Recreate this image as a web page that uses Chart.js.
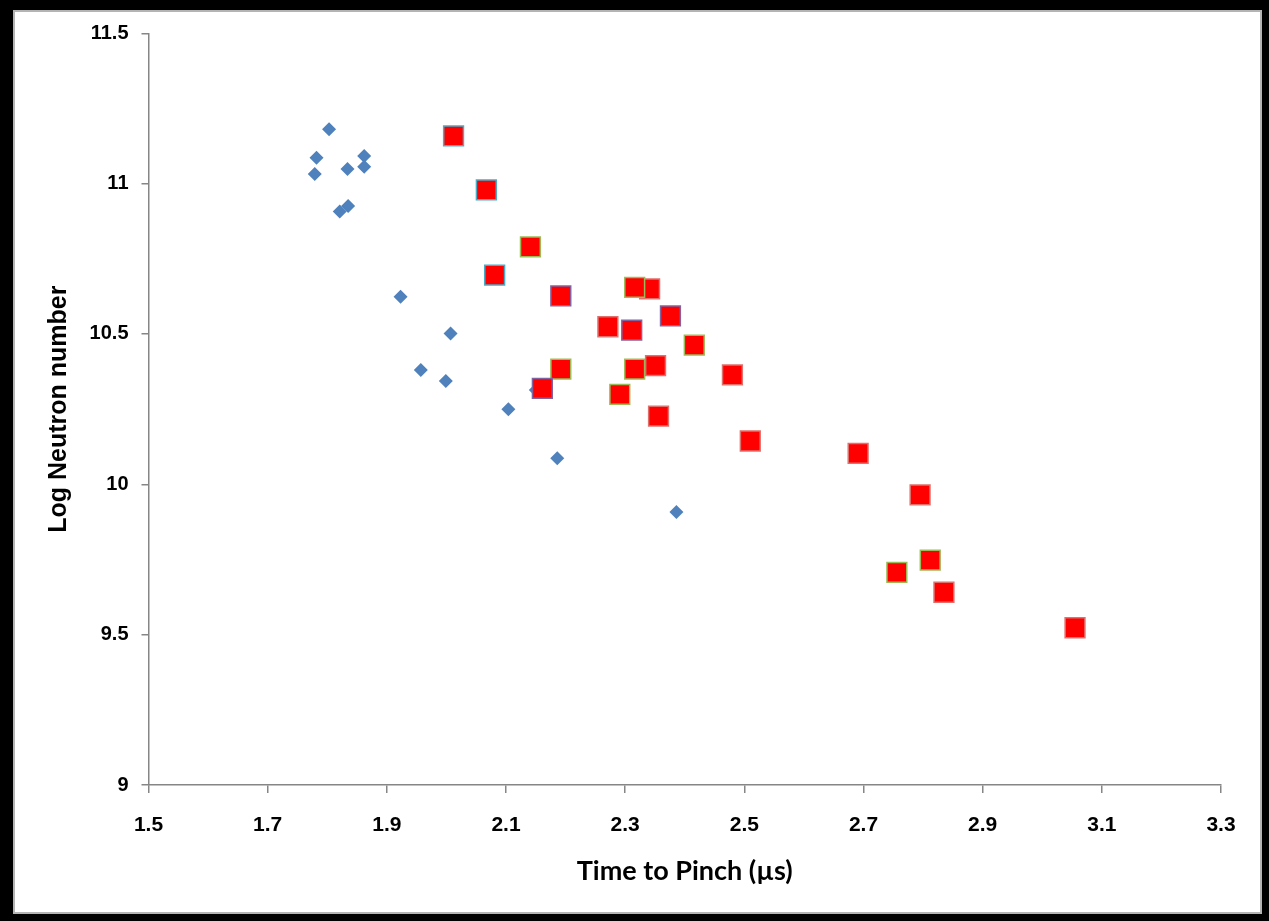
<!DOCTYPE html>
<html>
<head>
<meta charset="utf-8">
<script src="https://cdn.jsdelivr.net/npm/chart.js@4"></script>
<style>
  html, body { margin: 0; padding: 0; background: #000; width: 1269px; height: 921px; overflow: hidden; }
  #frame { position: absolute; left: 13px; top: 10px; width: 1245px; height: 900px; background: #fff; border: 2px solid #b4b4b4; }
  #wrap { position: absolute; left: 0; top: 0; width: 1269px; height: 921px; }
</style>
</head>
<body>
<div id="frame"></div>
<div id="wrap"><canvas id="c" width="1269" height="921"></canvas></div>
<script>
// Blue diamonds series
const blueX = [1.803, 1.782, 1.779, 1.834, 1.862, 1.862, 1.835, 1.821, 1.923, 2.007, 1.957, 1.999, 2.104, 2.150, 2.186, 2.386];
const blueY = [11.181, 11.086, 11.032, 11.049, 11.092, 11.056, 10.926, 10.907, 10.624, 10.502, 10.380, 10.344, 10.250, 10.314, 10.087, 9.908];
// Red squares series
const redX = [2.012, 2.067, 2.081, 2.141, 2.192, 2.341, 2.316, 2.376, 2.271, 2.311, 2.416, 2.192, 2.316, 2.351, 2.161, 2.291, 2.356, 2.480, 2.510, 2.691, 2.795, 2.812, 2.756, 2.835, 3.055];
const redY = [11.159, 10.979, 10.696, 10.790, 10.627, 10.650, 10.655, 10.560, 10.524, 10.513, 10.463, 10.383, 10.383, 10.395, 10.319, 10.299, 10.227, 10.364, 10.144, 10.103, 9.965, 9.748, 9.707, 9.641, 9.523];
// Per-point outline colours of the red squares (style only)
const redBorders = ['#4bacc6', '#4bacc6', '#4bacc6', '#9bbb59', '#8064a2', '#e0706c', '#9bbb59', '#8064a2', '#e0706c', '#8064a2', '#9bbb59', '#9bbb59', '#9bbb59', '#e0706c', '#8064a2', '#9bbb59', '#e0706c', '#e0706c', '#e0706c', '#e0706c', '#e0706c', '#9bbb59', '#9bbb59', '#e0706c', '#e0706c'];
// Axis ticks
const xTicks = [1.5, 1.7, 1.9, 2.1, 2.3, 2.5, 2.7, 2.9, 3.1, 3.3];
const xTickLabels = ['1.5', '1.7', '1.9', '2.1', '2.3', '2.5', '2.7', '2.9', '3.1', '3.3'];
const yTicks = [9, 9.5, 10, 10.5, 11, 11.5];
const yTickLabels = ['9', '9.5', '10', '10.5', '11', '11.5'];
const xTitle = 'Time to Pinch (\u00b5s)';
const yTitle = 'Log Neutron number';

const blueData = blueX.map((x, i) => ({ x: x, y: blueY[i] }));
const redData = redX.map((x, i) => ({ x: x, y: redY[i] }));

const axisColor = '#868686';
const tickFont = { family: '"Liberation Sans", Arial, sans-serif', size: 21, weight: 'bold' };

new Chart(document.getElementById('c'), {
  type: 'scatter',
  data: {
    datasets: [
      {
        label: 'Red',
        data: redData,
        order: 1,
        pointStyle: 'rect',
        pointRadius: 14,
        pointHoverRadius: 14,
        backgroundColor: '#ff0000',
        borderColor: redBorders,
        borderWidth: 1.5
      },
      {
        label: 'Blue',
        data: blueData,
        order: 2,
        pointStyle: 'rectRot',
        pointRadius: 7,
        pointHoverRadius: 7,
        backgroundColor: '#4f81bd',
        borderColor: '#4f81bd',
        borderWidth: 0
      }
    ]
  },
  options: {
    responsive: false,
    animation: false,
    devicePixelRatio: 1,
    layout: { padding: { left: 0, top: 33.3, right: 48, bottom: 30 } },
    plugins: { legend: { display: false }, tooltip: { enabled: false } },
    scales: {
      x: {
        type: 'linear',
        min: 1.5,
        max: 3.3,
        afterBuildTicks: (s) => { s.ticks = xTicks.map(v => ({ value: v })); },
        afterFit: (s) => { s.height = 106; },
        border: { display: true, color: axisColor, width: 1.5 },
        grid: { display: true, drawOnChartArea: false, drawTicks: true, tickLength: 8, color: axisColor, lineWidth: 1.5 },
        ticks: {
          color: '#000',
          font: tickFont,
          padding: 20,
          maxRotation: 0,
          autoSkip: false,
          callback: (v, i) => xTickLabels[i]
        },
        title: {
          display: true,
          text: xTitle,
          color: '#000',
          font: { family: 'Lato, "Open Sans", sans-serif', size: 27, weight: 'bold' },
          padding: { top: 4, bottom: 4 }
        }
      },
      y: {
        type: 'linear',
        min: 9,
        max: 11.5,
        afterBuildTicks: (s) => { s.ticks = yTicks.map(v => ({ value: v })); },
        afterFit: (s) => { s.width = 148.5; },
        border: { display: true, color: axisColor, width: 1.5 },
        grid: { display: true, drawOnChartArea: false, drawTicks: true, tickLength: 7, color: axisColor, lineWidth: 1.5 },
        ticks: {
          color: '#000',
          font: { family: '"Liberation Sans", Arial, sans-serif', size: 20, weight: 'bold' },
          padding: 13,
          autoSkip: false,
          callback: (v, i) => yTickLabels[i]
        },
        title: {
          display: true,
          text: yTitle,
          color: '#000',
          font: { family: '"Liberation Sans", Arial, sans-serif', size: 25, weight: 'bold' },
          padding: { top: 44, bottom: 0 }
        }
      }
    }
  }
});
</script>
</body>
</html>
